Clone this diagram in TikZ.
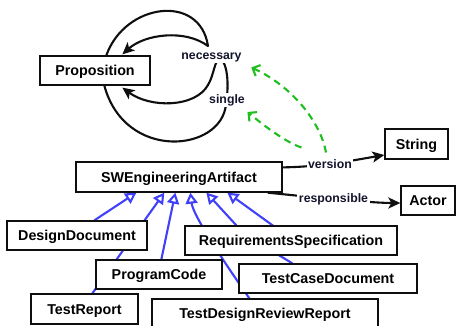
\documentclass[tikz,border=0pt]{standalone}
\usepackage{fontspec}
\setmainfont{Liberation Sans}
\usetikzlibrary{arrows.meta}
\definecolor{genblue}{RGB}{64,64,250}
\definecolor{metagreen}{RGB}{30,190,30}
\definecolor{edgeink}{RGB}{15,15,15}
\definecolor{labelink}{RGB}{20,20,45}
\pgfdeclarelayer{edges}
\pgfsetlayers{edges,main}

\begin{document}
\begin{tikzpicture}[x=1pt,y=-1pt,
  cls/.style={draw=edgeink, fill=white, line width=1.3pt, minimum height=29pt,
    inner sep=0pt, font=\bfseries\fontsize{14.3}{16}\selectfont,
    text height=10.3pt, text depth=0pt},
  lbl/.style={fill=white, inner sep=1.5pt, text=labelink,
    font=\bfseries\fontsize{12.3}{14}\selectfont, text height=9pt, text depth=2.6pt},
  rel/.style={draw=edgeink, line width=2.1pt, line join=round,
    -{Stealth[length=12pt,width=11pt,inset=3pt]}},
  gen/.style={draw=genblue, line width=2.1pt,
    -{Triangle[open,length=11pt,width=12pt]}},
  meta/.style={draw=metagreen, line width=2.1pt, dash pattern=on 7pt off 5pt,
    -{Straight Barb[length=6pt,width=12pt]}}
]
\useasboundingbox (0,0) rectangle (457,326);

% classes
\node[cls, minimum width=110pt] (prop) at (95,70.5) {Proposition};
\node[cls, minimum width=206pt, minimum height=30pt] (swea) at (179,177) {SWEngineeringArtifact};
\node[cls, minimum width=63pt, minimum height=30pt] (str) at (416.5,144) {String};
\node[cls, minimum width=54pt] (actor) at (428,200.5) {Actor};
\node[cls, minimum width=140pt] (dd) at (77,235.5) {DesignDocument};
\node[cls, minimum width=212pt] (rs) at (291,240.5) {RequirementsSpecification};
\node[cls, minimum width=126pt] (pc) at (159,274.5) {ProgramCode};
\node[cls, minimum width=178pt] (tcd) at (328,278.5) {TestCaseDocument};
\node[cls, minimum width=107pt, minimum height=30pt] (tr) at (84.5,309) {TestReport};
\node[cls, minimum width=226pt] (tdrr) at (265,313.5) {TestDesignReviewReport};

% property labels
\node[lbl] (nec) at (211.5,56) {necessary};
\node[lbl] (sgl) at (227,100) {single};
\node[lbl] (ver) at (330,165) {version};
\node[lbl] (resp) at (333.5,199) {responsible};

\begin{pgfonlayer}{edges}
  % self-loops on Proposition
  \draw[rel] ([xshift=67pt]prop.north west)
      .. controls (125,3) and (200,-7) .. (208,46)
      .. controls (185,29) and (145,34) .. ([xshift=83pt,yshift=1pt]prop.north west);
  \draw[rel] ([xshift=65pt]prop.south west)
      .. controls (125,162) and (222,152) .. (226,104)
      .. controls (229,85) and (228,65) .. (220,57)
      .. controls (214,62) and (214,75) .. (208,85)
      .. controls (195,108) and (150,108) .. ([xshift=83pt,yshift=-2pt]prop.south west);

  % properties of SWEngineeringArtifact
  \draw[rel] ([yshift=-6pt]swea.north east)
      .. controls (320,167) and (355,160) .. ([yshift=-11pt]str.west);
  \draw[rel] ([xshift=-15pt]swea.south east)
      .. controls (300,196) and (370,203) .. ([yshift=-2.5pt]actor.west);

  % property-to-property links
  \draw[meta] ([xshift=-4pt,yshift=5pt]ver.north)
      .. controls (320,120) and (290,85) .. ([xshift=8pt,yshift=-4pt]nec.south east);
  \draw[meta] ([xshift=-5pt,yshift=10pt]ver.north west)
      .. controls (285,142) and (262,124) .. ([xshift=1pt,yshift=-4.5pt]sgl.south east);

  % subclass links
  \draw[gen] ([xshift=88pt]dd.north west) -- ([xshift=61pt]swea.south west);
  \draw[gen] ([xshift=62pt]tr.north west) -- ([xshift=89pt]swea.south west);
  \draw[gen] ([xshift=66pt]pc.north west) -- ([xshift=100pt]swea.south west);
  \draw[gen] ([xshift=98pt]tdrr.north west)
      .. controls (222,259) and (193,215) .. ([xshift=115pt]swea.south west);
  \draw[gen] ([xshift=52pt]rs.north west) -- ([xshift=131pt]swea.south west);
  \draw[gen] ([xshift=54pt]tcd.north west) -- (277,254) -- (279,230)
      -- ([xshift=152pt]swea.south west);
\end{pgfonlayer}
\end{tikzpicture}
\end{document}
